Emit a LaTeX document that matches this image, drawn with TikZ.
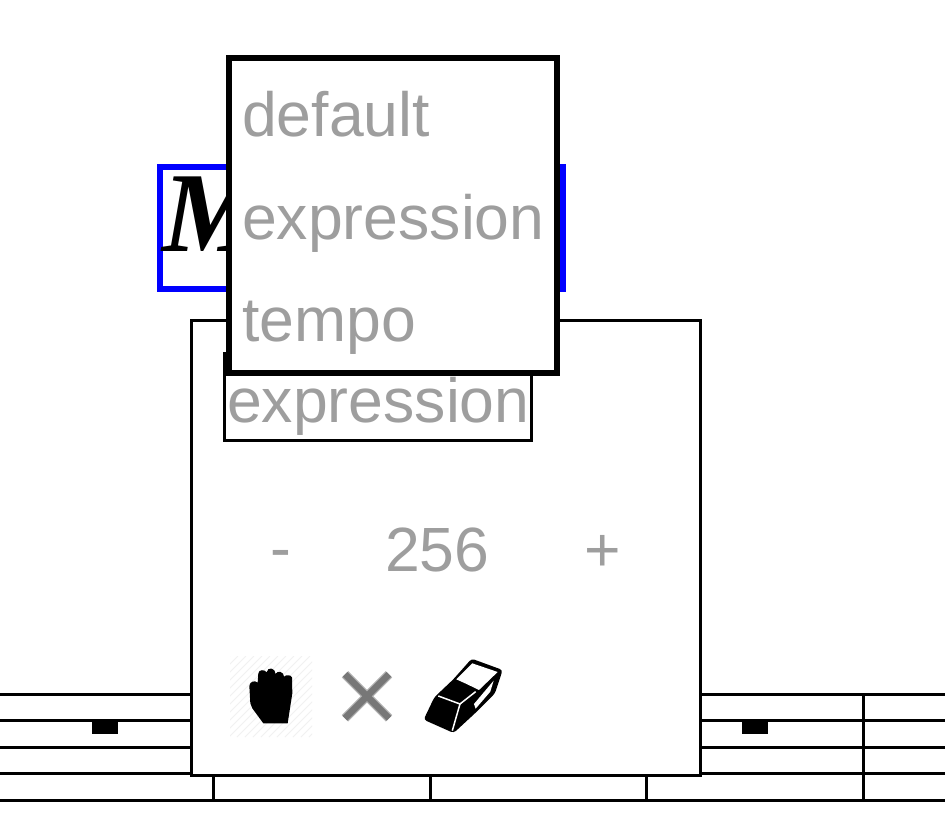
\documentclass[tikz,border=0pt]{standalone}
\usepackage{fontspec}
\setmainfont{Liberation Sans}
\newfontfamily\titlefont{Liberation Serif}
\definecolor{labelgray}{HTML}{9E9E9E}
\definecolor{crossgray}{HTML}{777777}
\definecolor{crossedge}{HTML}{B0B0B0}
\definecolor{tilegray}{HTML}{F1F1F1}
\tikzset{
  staffline/.style={line width=3pt},
  panelbox/.style={draw,rectangle,fill=white,line width=3pt,inner sep=0pt},
  popupbox/.style={draw,rectangle,fill=white,line width=6pt,inner sep=0pt},
  menulabel/.style={anchor=base west,inner sep=0pt,text=labelgray,font=\fontsize{62.5}{63}\selectfont},
  restbox/.style={fill=black,rectangle,inner sep=0pt,minimum width=26pt,minimum height=13pt}
}
\begin{document}
\begin{tikzpicture}[x=1pt,y=-1pt]
\useasboundingbox (0,0) rectangle (945,834);
% staff
\foreach \y in {694,720.5,747,773.5,800}
  \draw[staffline] (0,\y) -- (945,\y);
\foreach \x in {213,430,646.5,863}
  \draw[staffline] (\x,694) -- (\x,800);
\node[restbox] (restleft) at (105,727.5) {};
\node[restbox] (restright) at (755,727.5) {};

% title box
\node[draw=blue,rectangle,line width=6pt,inner sep=0pt,minimum width=403pt,minimum height=122pt] (titlebox) at (361.5,228) {};
\node[anchor=base west,inner sep=0pt] (titletext) at (162,252) {\titlefont\bfseries\itshape\fontsize{114}{114}\selectfont M};

% panel
\node[panelbox,minimum width=509pt,minimum height=454pt] (panel) at (446,548) {};
\node[panelbox,minimum width=306.5pt,minimum height=87pt] (selectbox) at (377.75,397) {};
\node[menulabel] (selecttext) at (227,422) {expression};
\node[menulabel] (minus) at (270,569) {-};
\node[menulabel] (count) at (385,571) {256};
\node[menulabel] (plus) at (584,571) {+};

% hand tile
\fill[white] (230,656) rectangle (312,737);
\begin{scope}
\clip (230,656) rectangle (312,737);
\foreach \x in {230,238,...,390}
  \draw[tilegray,line width=1pt] (\x,656) -- ++(-81,81);
\end{scope}

% icons, coordinates in thirds of a pixel
\begin{scope}[shift={(215,640)},x=0.3333pt,y=-0.3333pt]
\fill (145,250) -- (218,250) -- (232,160) -- (231,112) .. controls (228,104) and (212,104) .. (207,110)
  .. controls (207,95) and (188,90) .. (181,102) .. controls (181,82) and (157,80) .. (155,97)
  .. controls (150,88) and (131,88) .. (130,100) -- (128,128) .. controls (120,120) and (104,124) .. (103,138)
  -- (106,190) -- (112,205) -- cycle;
\draw[crossedge,line width=9pt] (390,103) -- (522,235);
\draw[crossedge,line width=9pt] (522,103) -- (390,235);
\draw[crossgray,line width=6.5pt] (390,103) -- (522,235);
\draw[crossgray,line width=6.5pt] (522,103) -- (390,235);
\fill[rounded corners=3pt] (626,239) -- (658,172) -- (715,118) -- (770,56) -- (863,90) -- (840,160) -- (780,220) -- (716,279) -- cycle;
\fill[white] (724,118) -- (772,70) -- (848,96) -- (792,150) -- (755,132) -- cycle;
\fill[white] (836,122) -- (826,155) -- (782,206) -- (777,192) -- cycle;
\draw[white,line width=1.5pt] (670,168) -- (735,192) -- (782,155);
\draw[white,line width=1.5pt] (735,192) -- (712,272);
\end{scope}

% popup menu
\node[popupbox,minimum width=328pt,minimum height=315pt] (popup) at (393,215.5) {};
\node[menulabel] (itemdefault) at (242,136.5) {default};
\node[menulabel] (itemexpression) at (242,240) {expression};
\node[menulabel] (itemtempo) at (242,341.5) {tempo};
\end{tikzpicture}
\end{document}
